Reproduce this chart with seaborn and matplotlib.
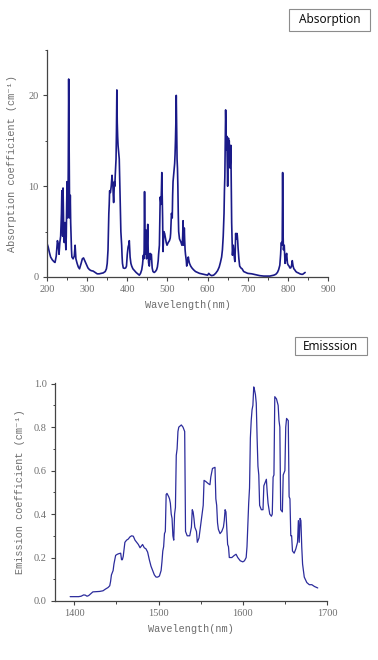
import matplotlib
matplotlib.use("Agg")
import matplotlib.pyplot as plt
import matplotlib.ticker as ticker
from matplotlib.patches import Rectangle
import seaborn as sns

# absorption spectrum (nm, cm^-1)
abs_wl = [200, 203, 206, 209, 213, 217, 220, 223, 226, 228, 230, 232, 234, 236, 237, 238, 239, 240, 241, 242,
          243, 244, 245, 246, 247, 248, 249, 250, 251, 252, 253, 254, 255, 256, 257, 258, 259, 260, 261, 262,
          265, 268, 270, 271, 272, 275, 278, 281, 285, 288, 291, 294, 298, 302, 306, 310, 315, 320, 325, 330,
          335, 340, 345, 348, 350, 352, 354, 355, 356, 358, 360, 362, 363, 364, 365, 366, 367, 368, 369, 370,
          371, 372, 373, 374, 375, 376, 377, 378, 379, 380, 381, 382, 383, 384, 385, 386, 387, 388, 390, 393,
          396, 398, 400, 402, 404, 405, 406, 407, 409, 411, 414, 418, 422, 426, 430, 433, 436, 438, 440, 441,
          442, 443, 444, 445, 446, 447, 448, 449, 450, 451, 452, 453, 454, 455, 456, 457, 458, 459, 460, 461,
          462, 464, 467, 470, 473, 475, 477, 478, 480, 481, 482, 483, 484, 485, 486, 487, 488, 489, 490, 491,
          493, 495, 497, 499, 502, 505, 507, 508, 509, 510, 511, 512, 513, 514, 516, 518, 519, 520, 521, 522,
          523, 524, 525, 526, 527, 528, 530, 532, 534, 536, 537, 538, 539, 540, 541, 542, 543, 544, 545, 547,
          548, 550, 552, 553, 555, 558, 561, 565, 570, 575, 580, 585, 590, 595, 600, 603, 606, 610, 615, 620,
          625, 629, 632, 635, 637, 639, 641, 642, 643, 644, 645, 646, 647, 648, 649, 650, 651, 652, 653, 654,
          655, 656, 657, 658, 659, 660, 661, 662, 663, 664, 665, 666, 667, 668, 669, 670, 671, 672, 673, 674,
          675, 676, 678, 680, 683, 686, 690, 695, 700, 705, 710, 715, 720, 725, 730, 735, 740, 745, 750, 755,
          760, 765, 770, 774, 777, 780, 782, 783, 784, 785, 786, 787, 788, 789, 790, 791, 792, 793, 794, 795,
          796, 797, 798, 799, 801, 803, 805, 807, 809, 811, 812, 813, 815, 817, 820, 823, 826, 830, 834, 837,
          840, 843]
abs_val = [3.7, 3.3, 2.7, 2.2, 1.9, 1.7, 1.6, 2.3, 4.0, 3.6, 2.5, 3.8, 4.5, 7.0, 9.5, 6.5, 4.5, 9.8, 7.0, 4.0,
           3.8, 4.5, 6.0, 4.0, 3.0, 4.5, 8.0, 10.5, 7.5, 6.5, 12.0, 21.8, 15.0, 9.0, 6.5, 9.0, 6.0, 4.3, 3.0, 2.2,
           2.0, 2.3, 3.5, 2.8, 2.0, 1.5, 1.1, 0.9, 1.5, 2.0, 2.1, 1.8, 1.4, 1.0, 0.8, 0.7, 0.65, 0.5, 0.35, 0.35,
           0.4, 0.45, 0.6, 0.9, 1.5, 3.0, 7.0, 8.0, 9.5, 9.3, 10.0, 11.2, 10.5, 10.3, 9.0, 8.2, 9.5, 10.5, 10.0, 11.2,
           12.0, 13.0, 16.0, 20.6, 17.0, 15.5, 14.5, 14.0, 13.5, 13.0, 11.0, 9.0, 6.5, 5.0, 4.2, 3.5, 2.3, 1.5, 1.0, 0.95,
           1.0, 1.2, 2.5, 3.3, 3.6, 4.0, 3.2, 2.2, 1.5, 1.2, 0.9, 0.7, 0.5, 0.35, 0.2, 0.4, 0.8, 1.4, 2.4, 2.0,
           3.0, 9.4, 4.5, 2.5, 5.2, 3.5, 2.0, 3.0, 4.5, 5.8, 3.2, 1.6, 1.3, 1.2, 2.0, 2.6, 2.0, 2.5, 2.5, 1.8,
           1.0, 0.6, 0.5, 0.6, 0.8, 1.1, 1.8, 2.5, 3.5, 6.0, 8.8, 8.5, 8.0, 9.5, 11.5, 9.0, 6.5, 2.8, 4.0, 5.0,
           4.8, 4.3, 3.8, 3.5, 3.8, 4.0, 4.3, 4.8, 6.0, 7.0, 6.8, 6.5, 9.0, 10.5, 11.5, 12.5, 13.5, 15.0, 17.0, 20.0,
           16.0, 13.0, 12.0, 10.0, 7.0, 5.0, 4.2, 4.0, 3.8, 3.5, 3.5, 4.5, 6.2, 4.0, 3.5, 5.4, 4.0, 3.0, 2.5, 1.8,
           1.2, 1.6, 2.2, 1.9, 1.5, 1.2, 1.0, 0.8, 0.6, 0.5, 0.4, 0.35, 0.3, 0.25, 0.2, 0.4, 0.25, 0.15, 0.2, 0.4,
           0.7, 1.1, 1.6, 2.2, 3.0, 4.5, 7.0, 9.5, 11.0, 15.0, 18.4, 16.0, 14.0, 15.5, 13.0, 10.0, 13.0, 15.3, 14.5, 15.0,
           13.5, 12.0, 13.0, 14.5, 10.0, 6.0, 4.0, 2.4, 3.0, 3.5, 3.0, 2.5, 2.0, 1.7, 3.0, 4.8, 4.2, 4.5, 4.8, 4.6,
           4.0, 3.2, 2.0, 1.2, 1.0, 0.9, 0.6, 0.5, 0.4, 0.38, 0.35, 0.3, 0.25, 0.2, 0.15, 0.12, 0.1, 0.1, 0.1, 0.1,
           0.15, 0.2, 0.3, 0.5, 0.8, 1.3, 2.5, 3.5, 3.8, 3.5, 4.0, 11.5, 5.0, 3.0, 3.3, 3.5, 2.5, 1.5, 1.8, 2.0,
           2.4, 2.6, 2.0, 1.5, 1.3, 1.2, 1.0, 1.0, 1.2, 1.8, 1.5, 1.2, 0.9, 0.8, 0.6, 0.5, 0.45, 0.35, 0.3, 0.3,
           0.4, 0.5]

# emission spectrum
emi_wl = [1395, 1400, 1405, 1408, 1411, 1413, 1415, 1417, 1419, 1422, 1426, 1430, 1434, 1437, 1440, 1442, 1443,
          1444, 1446, 1447, 1449, 1451, 1453, 1455, 1456, 1457, 1458, 1460, 1462, 1464, 1466, 1468, 1470, 1472,
          1474, 1476, 1478, 1480, 1481, 1483, 1485, 1487, 1489, 1491, 1493, 1495, 1497, 1499, 1501, 1503, 1504,
          1505, 1506, 1507, 1508, 1509, 1510, 1512, 1513, 1514, 1515, 1516, 1517, 1518, 1519, 1520, 1521, 1522,
          1523, 1524, 1527, 1529, 1531, 1532, 1534, 1537, 1539, 1540, 1541, 1542, 1543, 1545, 1546, 1548, 1550,
          1551, 1553, 1554, 1556, 1559, 1561, 1562, 1564, 1567, 1568, 1569, 1570, 1571, 1573, 1575, 1577, 1578,
          1579, 1580, 1581, 1582, 1583, 1584, 1587, 1590, 1592, 1594, 1597, 1600, 1602, 1604, 1605, 1606, 1607,
          1608, 1609, 1610, 1611, 1612, 1613, 1614, 1615, 1616, 1617, 1618, 1619, 1620, 1622, 1624, 1625, 1627,
          1628, 1629, 1630, 1632, 1634, 1635, 1636, 1637, 1638, 1640, 1642, 1643, 1644, 1645, 1647, 1648, 1650,
          1651, 1652, 1654, 1655, 1656, 1657, 1658, 1659, 1661, 1663, 1665, 1666, 1667, 1668, 1669, 1670, 1671,
          1673, 1676, 1679, 1682, 1685, 1689]
emi_val = [0.02, 0.02, 0.02, 0.022, 0.028, 0.027, 0.022, 0.025, 0.032, 0.042, 0.043, 0.044, 0.047, 0.055, 0.062,
           0.07, 0.09, 0.12, 0.14, 0.17, 0.21, 0.215, 0.218, 0.22, 0.19, 0.19, 0.205, 0.27, 0.28, 0.285, 0.295,
           0.30, 0.298, 0.28, 0.27, 0.26, 0.245, 0.255, 0.26, 0.245, 0.24, 0.225, 0.19, 0.16, 0.14, 0.12, 0.11,
           0.11, 0.115, 0.14, 0.18, 0.23, 0.25, 0.31, 0.32, 0.49, 0.495, 0.48, 0.47, 0.45, 0.40, 0.38, 0.30, 0.28,
           0.40, 0.43, 0.67, 0.70, 0.78, 0.80, 0.81, 0.80, 0.78, 0.32, 0.30, 0.30, 0.34, 0.42, 0.41, 0.38, 0.34,
           0.32, 0.27, 0.29, 0.35, 0.38, 0.44, 0.555, 0.55, 0.54, 0.535, 0.57, 0.61, 0.615, 0.47, 0.44, 0.36, 0.33,
           0.31, 0.32, 0.34, 0.37, 0.42, 0.41, 0.33, 0.26, 0.25, 0.20, 0.20, 0.21, 0.215, 0.20, 0.185, 0.18, 0.185,
           0.20, 0.25, 0.35, 0.45, 0.52, 0.75, 0.83, 0.88, 0.90, 0.985, 0.97, 0.95, 0.91, 0.75, 0.62, 0.58, 0.44,
           0.42, 0.42, 0.53, 0.55, 0.56, 0.50, 0.45, 0.40, 0.39, 0.40, 0.57, 0.58, 0.94, 0.93, 0.90, 0.83, 0.80,
           0.42, 0.41, 0.58, 0.60, 0.80, 0.84, 0.83, 0.48, 0.47, 0.30, 0.30, 0.23, 0.22, 0.24, 0.27, 0.37, 0.27,
           0.38, 0.37, 0.25, 0.17, 0.11, 0.085, 0.075, 0.075, 0.067, 0.06]

W, H = 378, 660
text_gray = '#6e6e6e'
axis_gray = '#444444'
mono = ['Liberation Mono', 'DejaVu Sans']
serif = ['Liberation Serif', 'DejaVu Serif']


def style_axis(ax):
    sns.despine(ax=ax)
    for s in ['left', 'bottom']:
        ax.spines[s].set_color(axis_gray)
        ax.spines[s].set_linewidth(0.9)
    ax.tick_params(which='major', direction='out', length=3, width=0.8, color=axis_gray,
                   labelsize=7.5, labelcolor=text_gray, pad=3)
    ax.tick_params(which='minor', direction='out', length=1.8, width=0.7, color=axis_gray)
    for lab in ax.get_xticklabels() + ax.get_yticklabels():
        lab.set_family(serif)
    ax.set_facecolor('white')
    ax.grid(False)


def label_box(fig, x0, y0, x1, y1, text):
    fig.patches.append(Rectangle((x0 / W, 1 - y1 / H), (x1 - x0) / W, (y1 - y0) / H,
                                 transform=fig.transFigure, fill=False,
                                 edgecolor='#8c8c8c', linewidth=0.8))
    fig.text((x0 + x1) / 2 / W, 1 - (y0 + y1) / 2 / H, text, ha='center', va='center',
             fontsize=8.5, family=['Noto Sans', 'DejaVu Sans'], color='#111111')


def main():
    sns.set_style('ticks')

    fig = plt.figure(figsize=(W / 100, H / 100), dpi=100)
    fig.patch.set_facecolor('white')

    # absorption
    ax1 = fig.add_axes([47 / W, 1 - 277 / H, (328 - 47) / W, (277 - 50) / H])
    sns.lineplot(x=abs_wl, y=abs_val, ax=ax1, sort=False, estimator=None,
                 color='#1a1a88', linewidth=1.2)
    ax1.set_xlim(200, 900)
    ax1.set_ylim(0, 25)
    ax1.xaxis.set_major_locator(ticker.MultipleLocator(100))
    ax1.xaxis.set_minor_locator(ticker.MultipleLocator(50))
    ax1.yaxis.set_major_locator(ticker.FixedLocator([0, 10, 20]))
    ax1.yaxis.set_minor_locator(ticker.FixedLocator([5, 15, 25]))
    style_axis(ax1)
    ax1.set_xlabel('Wavelength(nm)', fontsize=7.4, family=mono, color=text_gray, labelpad=4)
    ax1.set_ylabel('Absorption coefficient (cm\u207b\u00b9)', fontsize=7.4, family=mono,
                   color=text_gray, labelpad=8)

    # emission
    ax2 = fig.add_axes([55 / W, 1 - 601 / H, (327 - 55) / W, (601 - 383) / H])
    sns.lineplot(x=emi_wl, y=emi_val, ax=ax2, sort=False, estimator=None,
                 color='#2c2c9c', linewidth=0.9)
    ax2.set_xlim(1377, 1700)
    ax2.set_ylim(0, 1.003)
    ax2.xaxis.set_major_locator(ticker.MultipleLocator(100))
    ax2.xaxis.set_minor_locator(ticker.MultipleLocator(50))
    ax2.yaxis.set_major_locator(ticker.MultipleLocator(0.2))
    ax2.yaxis.set_minor_locator(ticker.MultipleLocator(0.1))
    ax2.yaxis.set_major_formatter(ticker.FormatStrFormatter('%.1f'))
    style_axis(ax2)
    ax2.set_xlabel('Wavelength(nm)', fontsize=7.4, family=mono, color=text_gray, labelpad=4)
    ax2.set_ylabel('Emission coefficient (cm\u207b\u00b9)', fontsize=7.4, family=mono,
                   color=text_gray, labelpad=6)

    label_box(fig, 289, 9, 370, 31, 'Absorption')
    label_box(fig, 295, 337, 367, 355, 'Emisssion')

    fig.savefig('out.png', dpi=100, facecolor='white')


if __name__ == '__main__':
    main()
